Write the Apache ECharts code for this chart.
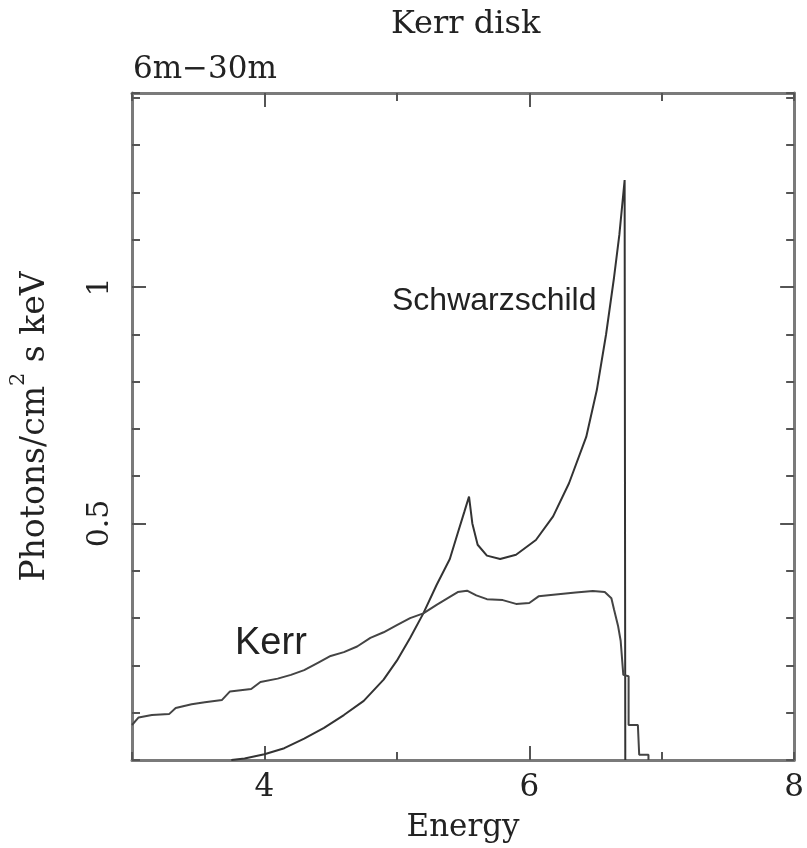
<!DOCTYPE html>
<html>
<head>
<meta charset="utf-8">
<script src="https://cdn.jsdelivr.net/npm/echarts@6/dist/echarts.min.js"></script>
<style>
  html, body { margin: 0; padding: 0; background: #fff; }
  #chart { width: 807px; height: 848px; }
</style>
</head>
<body>
<div id="chart"></div>
<script>
// Schwarzschild line (energy in keV, photons/cm^2 s keV)
var schwEnergy = [3.75, 3.85, 4.0, 4.15, 4.3, 4.45, 4.6, 4.75, 4.9, 5.0, 5.1, 5.2, 5.3, 5.4, 5.46, 5.51, 5.545,
                  5.57, 5.61, 5.68, 5.78, 5.9, 6.05, 6.18, 6.3, 6.43, 6.51, 6.58, 6.64, 6.68, 6.72, 6.725];
var schwFlux = [0, 0.003, 0.012, 0.025, 0.045, 0.068, 0.095, 0.125, 0.17, 0.21, 0.258, 0.31, 0.37, 0.425, 0.48, 0.525, 0.557,
                0.5, 0.455, 0.432, 0.425, 0.434, 0.465, 0.515, 0.585, 0.683, 0.782, 0.9, 1.02, 1.11, 1.226, 0];

// Kerr line
var kerrEnergy = [3.0, 3.05, 3.15, 3.28, 3.33, 3.45, 3.55, 3.68, 3.74, 3.9, 3.97, 4.1, 4.2, 4.3, 4.4, 4.5, 4.6, 4.7,
                  4.8, 4.9, 5.0, 5.1, 5.2, 5.3, 5.4, 5.46, 5.53, 5.6, 5.68, 5.8, 5.9, 6.0, 6.07, 6.2, 6.35, 6.48,
                  6.57, 6.62, 6.64, 6.67, 6.69, 6.71, 6.75, 6.75, 6.82, 6.83, 6.9, 6.9];
var kerrFlux = [0.074, 0.09, 0.095, 0.097, 0.11, 0.118, 0.122, 0.127, 0.145, 0.15, 0.165, 0.172, 0.18, 0.19, 0.205, 0.22, 0.228, 0.24,
                0.258, 0.27, 0.285, 0.3, 0.31, 0.328, 0.345, 0.355, 0.358, 0.348, 0.34, 0.338, 0.33, 0.332, 0.346, 0.35, 0.354, 0.357,
                0.355, 0.342, 0.318, 0.284, 0.252, 0.18, 0.177, 0.074, 0.074, 0.011, 0.011, 0];

var xMajor = [4, 6];
var xLabels = [4, 6, 8];
var yMajor = [0.5, 1];

function zip(a, b) {
    return a.map(function (v, i) { return [v, b[i]]; });
}

var serif = 'DejaVu Serif';
var textColor = '#222';
var frame = { show: true, onZero: false, lineStyle: { color: '#7a7a7a', width: 3 } };
var noLine = { show: false, onZero: false };
var tickStyle = { color: '#555', width: 2 };

function xAxisDef(pos, major) {
    return {
        type: 'value', position: pos, min: 3, max: 8, interval: 1,
        axisLine: major ? noLine : frame,
        axisTick: major
            ? { show: true, inside: true, length: 14, customValues: xMajor, lineStyle: tickStyle }
            : { show: true, inside: true, length: 8, lineStyle: tickStyle },
        axisLabel: (major && pos === 'bottom')
            ? { show: true, customValues: xLabels, fontFamily: serif, fontSize: 31, color: textColor, margin: 12 }
            : { show: false },
        splitLine: { show: false },
        name: (major && pos === 'bottom') ? 'Energy' : '',
        nameLocation: 'middle', nameGap: 52,
        nameTextStyle: { fontFamily: serif, fontSize: 31, color: textColor }
    };
}

function yAxisDef(pos, major) {
    return {
        type: 'value', position: pos, min: 0, max: 1.41, interval: 0.1,
        axisLine: major ? noLine : frame,
        axisTick: major
            ? { show: true, inside: true, length: 14, customValues: yMajor, lineStyle: tickStyle }
            : { show: true, inside: true, length: 8, lineStyle: tickStyle },
        axisLabel: (major && pos === 'left')
            ? { show: true, customValues: yMajor, rotate: 90, fontFamily: serif, fontSize: 30, color: textColor, margin: 17 }
            : { show: false },
        splitLine: { show: false },
        name: (major && pos === 'left') ? '{a|Photons/cm}{s|2}{a| s keV}' : '',
        nameLocation: 'middle', nameGap: 80,
        nameTextStyle: {
            rich: {
                a: { fontFamily: serif, fontSize: 33, color: textColor, verticalAlign: 'bottom', lineHeight: 44 },
                s: { fontFamily: serif, fontSize: 21, color: textColor, verticalAlign: 'top', lineHeight: 21 }
            }
        }
    };
}

var chart = echarts.init(document.getElementById('chart'));

var option = {
    animation: false,
    backgroundColor: '#fff',
    grid: { left: 132, top: 93, right: 8, bottom: 86 },
    xAxis: [xAxisDef('bottom', false), xAxisDef('bottom', true), xAxisDef('top', false), xAxisDef('top', true)],
    yAxis: [yAxisDef('left', false), yAxisDef('left', true), yAxisDef('right', false), yAxisDef('right', true)],
    graphic: [
        { type: 'text', left: 391, top: 9, style: { text: 'Kerr disk', font: '32px "DejaVu Serif"', fill: textColor } },
        { type: 'text', left: 133, top: 54, style: { text: '6m\u221230m', font: '31px "DejaVu Serif"', fill: textColor } },
        { type: 'text', left: 392, top: 285, style: { text: 'Schwarzschild', font: '32px "Liberation Sans"', fill: textColor } },
        { type: 'text', left: 235, top: 625, style: { text: 'Kerr', font: '38px "Liberation Sans"', fill: textColor } }
    ],
    series: [
        {
            name: 'Schwarzschild', type: 'line', xAxisIndex: 0, yAxisIndex: 0,
            data: zip(schwEnergy, schwFlux), showSymbol: false,
            lineStyle: { color: '#333', width: 2 }
        },
        {
            name: 'Kerr', type: 'line', xAxisIndex: 0, yAxisIndex: 0,
            data: zip(kerrEnergy, kerrFlux), showSymbol: false,
            lineStyle: { color: '#444', width: 2 }
        }
    ]
};

option && chart.setOption(option);
</script>
</body>
</html>
